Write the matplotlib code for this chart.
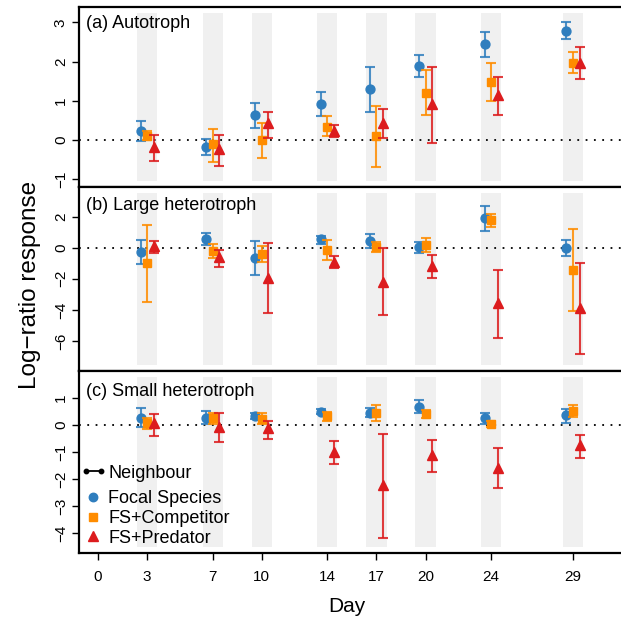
import matplotlib
matplotlib.use('Agg')
import matplotlib.pyplot as plt
from matplotlib.lines import Line2D
from matplotlib.legend_handler import HandlerLine2D

plt.rcParams['font.family'] = ['Liberation Sans', 'DejaVu Sans']

days = [3, 7, 10, 14, 17, 20, 24, 29]
xtick_days = [0, 3, 7, 10, 14, 17, 20, 24, 29]
groups = ['Focal Species', 'FS+Competitor', 'FS+Predator']
panel_titles = ['(a) Autotroph', '(b) Large heterotroph', '(c) Small heterotroph']

# (a) Autotroph
auto_fs = [0.24, -0.17, 0.64, 0.92, 1.29, 1.89, 2.44, 2.79]
auto_fs_lo = [-0.02, -0.38, 0.31, 0.60, 0.71, 1.60, 2.13, 2.58]
auto_fs_hi = [0.49, 0.02, 0.95, 1.23, 1.87, 2.16, 2.75, 3.01]
auto_comp = [0.11, -0.11, 0.00, 0.34, 0.10, 1.21, 1.47, 1.97]
auto_comp_lo = [0.00, -0.55, -0.45, 0.09, -0.70, 0.63, 1.00, 1.70]
auto_comp_hi = [0.23, 0.29, 0.44, 0.60, 0.88, 1.79, 1.97, 2.24]
auto_pred = [-0.17, -0.24, 0.43, 0.24, 0.44, 0.92, 1.15, 1.97]
auto_pred_lo = [-0.54, -0.66, 0.05, 0.07, 0.04, -0.07, 0.65, 1.55]
auto_pred_hi = [0.13, 0.12, 0.71, 0.38, 0.78, 1.85, 1.60, 2.36]

# (b) Large heterotroph
large_fs = [-0.26, 0.56, -0.68, 0.54, 0.45, 0.04, 1.88, 0.00]
large_fs_lo = [-1.03, 0.17, -1.77, 0.26, 0.00, -0.32, 1.09, -0.55]
large_fs_hi = [0.47, 0.92, 0.45, 0.77, 0.86, 0.38, 2.67, 0.51]
large_comp = [-1.00, -0.19, -0.40, -0.15, 0.04, 0.17, 1.76, -1.45]
large_comp_lo = [-3.50, -0.68, -0.90, -0.81, -0.30, -0.26, 1.33, -4.08]
large_comp_hi = [1.46, 0.24, 0.09, 0.49, 0.34, 0.60, 2.14, 1.18]
large_pred = [0.11, -0.58, -1.92, -0.90, -2.18, -1.15, -3.59, -3.89]
large_pred_lo = [-0.32, -1.22, -4.17, -1.28, -4.36, -1.96, -5.81, -6.83]
large_pred_hi = [0.43, -0.15, 0.30, -0.53, -0.04, -0.45, -1.45, -0.96]

# (c) Small heterotroph
small_fs = [0.27, 0.27, 0.35, 0.50, 0.46, 0.66, 0.25, 0.37]
small_fs_lo = [-0.09, 0.02, 0.24, 0.40, 0.29, 0.44, 0.04, 0.09]
small_fs_hi = [0.62, 0.51, 0.46, 0.59, 0.63, 0.91, 0.46, 0.59]
small_comp = [0.06, 0.25, 0.22, 0.34, 0.44, 0.41, 0.04, 0.53]
small_comp_lo = [-0.16, 0.04, 0.02, 0.16, 0.15, 0.25, -0.09, 0.31]
small_comp_hi = [0.25, 0.46, 0.44, 0.49, 0.75, 0.56, 0.15, 0.75]
small_pred = [0.06, -0.06, -0.12, -1.00, -2.24, -1.12, -1.58, -0.75]
small_pred_lo = [-0.40, -0.62, -0.53, -1.44, -4.17, -1.74, -2.33, -1.22]
small_pred_hi = [0.41, 0.44, 0.16, -0.60, -0.34, -0.56, -0.86, -0.37]

panels = [
    [(auto_fs, auto_fs_lo, auto_fs_hi), (auto_comp, auto_comp_lo, auto_comp_hi),
     (auto_pred, auto_pred_lo, auto_pred_hi)],
    [(large_fs, large_fs_lo, large_fs_hi), (large_comp, large_comp_lo, large_comp_hi),
     (large_pred, large_pred_lo, large_pred_hi)],
    [(small_fs, small_fs_lo, small_fs_hi), (small_comp, small_comp_lo, small_comp_hi),
     (small_pred, small_pred_lo, small_pred_hi)],
]
yticks = [[-1, 0, 1, 2, 3], [-6, -4, -2, 0, 2], [-4, -3, -2, -1, 0, 1]]
ylims = [(-1.199, 3.393), (-7.93, 3.90), (-4.74, 2.0)]

colors = ['#2F7EBE', '#FF8C00', '#DC1C1E']
markers = ['o', 's', '^']
msizes = [6.4, 5.8, 7.6]
offsets = [-0.4, 0.0, 0.4]

W, H = 621, 623
fig = plt.figure(figsize=(W / 100, H / 100), dpi=100)
edges = [(7, 187), (187, 371), (371, 553)]
left_px = 79
axes = []
for i, (top, bot) in enumerate(edges):
    ax = fig.add_axes([left_px / W, 1 - bot / H, (W - left_px) / W, (bot - top) / H])
    axes.append(ax)
    ax.set_xlim(-1.16, 31.93)
    ax.set_ylim(*ylims[i])
    for d in days:
        ax.axvspan(d - 0.62, d + 0.62, ymin=0.035, ymax=0.965, color='#F0F0F0', lw=0, zorder=0)
    ax.axhline(0, color='black', ls=(0, (1, 3.6)), lw=1.3, zorder=1)
    for g, (c, lo, hi) in enumerate(panels[i]):
        xs = [d + offsets[g] for d in days]
        yerr = [[ci - l for ci, l in zip(c, lo)], [h - ci for ci, h in zip(c, hi)]]
        ax.errorbar(xs, c, yerr=yerr, fmt='none', ecolor=colors[g], elinewidth=1.5,
                    capsize=3.6, capthick=1.5, alpha=0.85, zorder=2 + g)
        ax.plot(xs, c, ls='none', marker=markers[g], ms=msizes[g], color=colors[g],
                mec=colors[g], zorder=2.5 + g)
    for s in ['top', 'left', 'bottom']:
        ax.spines[s].set_linewidth(1.6)
    ax.spines['right'].set_visible(False)
    ax.set_yticks(yticks[i])
    ax.tick_params(axis='y', direction='out', length=5, width=1, labelsize=11,
                   labelrotation=90, pad=3)
    for tl in ax.get_yticklabels():
        tl.set_va('center')
    if i < 2:
        ax.set_xticks([])
    else:
        ax.set_xticks(xtick_days)
        ax.tick_params(axis='x', direction='out', length=5, width=1, labelsize=11, pad=7.5)
    title_offsets = [16, 18, 20]
    ax.text(7 / (W - left_px), 1 - title_offsets[i] / (bot - top), panel_titles[i],
            transform=ax.transAxes, fontsize=13, ha='left', va='center')

axc = axes[2]
neigh = Line2D([], [], color='black', lw=1.3, marker='o', ms=3.2)
leg1 = axc.legend([neigh], ['Neighbour'], loc='center left', frameon=False,
                  bbox_to_anchor=(85.5 / W, 1 - 473 / H), bbox_transform=fig.transFigure,
                  fontsize=13, handlelength=0.85, handletextpad=0.4, borderpad=0,
                  borderaxespad=0, handler_map={neigh: HandlerLine2D(numpoints=2, marker_pad=0)})
axc.add_artist(leg1)
handles = [Line2D([], [], ls='none', marker=markers[g], ms=msizes[g] * 0.95, color=colors[g])
           for g in range(3)]
axc.legend(handles, groups, loc='center left', frameon=False,
           bbox_to_anchor=(85.5 / W, 1 - 518.5 / H), bbox_transform=fig.transFigure,
           fontsize=13, handlelength=0.85, handletextpad=0.4, borderpad=0,
           borderaxespad=0, labelspacing=0.15)

fig.text(30 / W, 1 - 285 / H, 'Log\u2212ratio response', rotation=90, fontsize=17.5,
         ha='center', va='center')
fig.text(346.5 / W, 1 - 607 / H, 'Day', fontsize=15, ha='center', va='center')

fig.savefig('out.png', dpi=100)
